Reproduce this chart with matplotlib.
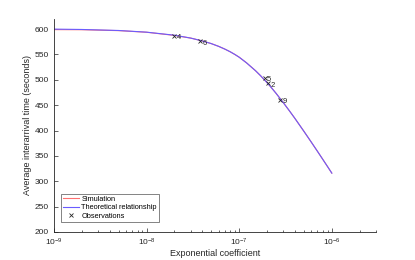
import numpy as np
import matplotlib
matplotlib.use('Agg')
import matplotlib.pyplot as plt

# curva
coef = [1e-9, 2e-9, 5e-9, 1e-8, 2e-8, 3e-8, 4e-8, 5e-8, 6e-8, 7e-8, 8e-8, 9e-8,
        1e-7, 1.2e-7, 1.5e-7, 1.7e-7, 2e-7, 2.2e-7, 2.5e-7, 3e-7, 3.5e-7,
        4e-7, 5e-7, 6e-7, 7e-7, 8e-7, 9e-7, 1e-6]
teorico = [600, 599.3, 597.3, 594, 588, 582.3, 576.7, 571.4, 566, 560.6, 555.3, 549.9,
           544.6, 533.5, 518, 508.2, 494.4, 485.7, 473.4, 454.8, 438.4,
           423.8, 398.4, 377.2, 359, 343, 328.8, 316]
simulacao = [599, 598.8, 597, 593.8, 587.6, 582.3, 576.7, 571.4, 566, 560.6, 555.3, 549.9,
             544.6, 533.5, 518, 508.2, 494.4, 485.7, 473.4, 454.8, 438.4,
             423.8, 398.4, 377.2, 359, 343, 328.8, 316]

# observacoes
obs_x = [2.0e-8, 3.8e-8, 1.9e-7, 2.06e-7, 2.77e-7]
obs_y = [587, 576, 504, 493, 461]
obs_rotulo = ['4', '6', '5', '2', '9']

plt.rcParams['font.family'] = ['Liberation Sans', 'DejaVu Sans']
cinza = '#262626'

fig = plt.figure(figsize=(4.15, 2.6), dpi=100)
ax = fig.add_axes([0.130, 0.108, 0.776, 0.819])

ax.plot(coef, simulacao, color='#ff7070', lw=0.8, label='Simulation')
ax.plot(coef, teorico, color='#6a5cff', lw=0.8, label='Theoretical relationship')
ax.plot(obs_x, obs_y, 'x', color=cinza, ms=3, mew=0.6, label='Observations')
for xi, yi, r in zip(obs_x, obs_y, obs_rotulo):
    ax.annotate(r, (xi, yi), xytext=(1.5, -1.5), textcoords='offset points',
                fontsize=5.5, color=cinza, va='center', ha='left')

ax.set_xscale('log')
ax.set_xlim(1e-9, 3e-6)
ax.set_ylim(200, 620)
ax.set_yticks(range(200, 601, 50))
ax.set_xticks([1e-9, 1e-8, 1e-7, 1e-6])

for s in ['top', 'right']:
    ax.spines[s].set_visible(False)
for s in ['left', 'bottom']:
    ax.spines[s].set_color(cinza)
    ax.spines[s].set_linewidth(0.6)
ax.tick_params(which='both', direction='in', colors=cinza, labelsize=6, width=0.5)
ax.tick_params(which='major', length=3)
ax.tick_params(which='minor', length=1.8)

ax.set_xlabel('Exponential coefficient', fontsize=6.5, color=cinza, labelpad=1)
ax.set_ylabel('Average interarrival time (seconds)', fontsize=6.5, color=cinza, labelpad=2)

leg = ax.legend(loc='lower left', bbox_to_anchor=(0.022, 0.047), fontsize=5.3,
                frameon=True, fancybox=False, edgecolor=cinza, handlelength=2.2,
                borderpad=0.25, labelspacing=0.2, handletextpad=0.3, borderaxespad=0)
leg.get_frame().set_linewidth(0.5)

fig.savefig('out.png', dpi=100)
